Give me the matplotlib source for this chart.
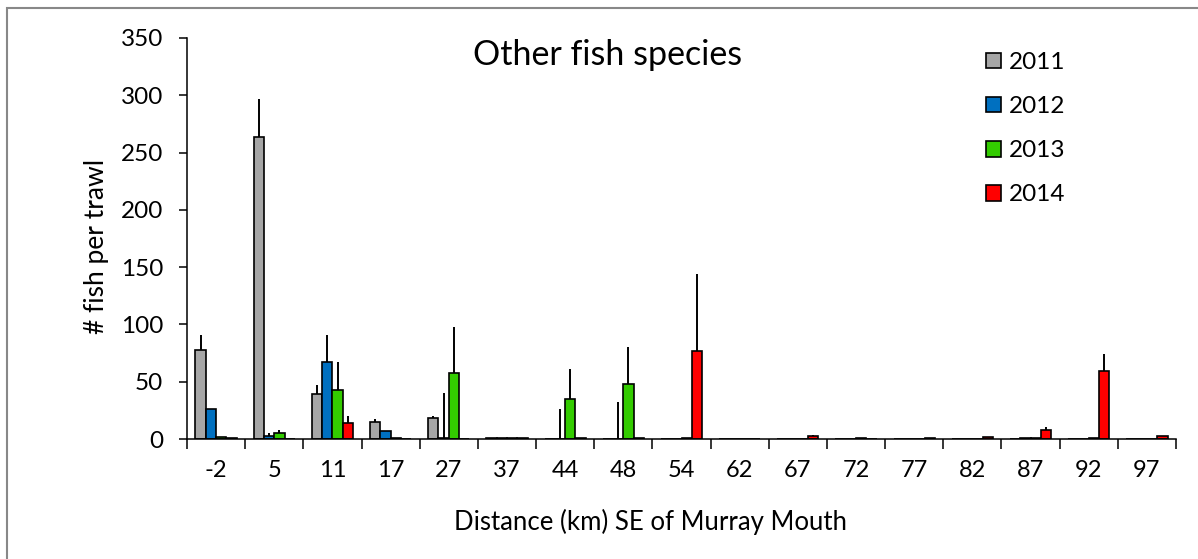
import numpy as np
import matplotlib
matplotlib.use('Agg')
import matplotlib.pyplot as plt
from matplotlib.patches import Rectangle

plt.rcParams['font.family'] = ['Lato', 'DejaVu Sans']

# distance categories (km SE of Murray Mouth)
cats = ['-2', '5', '11', '17', '27', '37', '44', '48', '54',
        '62', '67', '72', '77', '82', '87', '92', '97']
years = ['2011', '2012', '2013', '2014']
colors = ['#A6A6A6', '#0070C0', '#33CC00', '#FF0000']

# mean fish per trawl
y2011 = [78, 264, 39, 15, 18, 1, 0, 0, 0, 0, 0, 0, 0, 0, 0, 0, 0]
y2012 = [26, 3, 67, 7, 1, 0.8, 0.3, 0.3, 0, 0, 0, 0, 0, 0, 0.5, 0, 0]
y2013 = [2, 5, 43, 1, 58, 0.8, 35, 48, 1, 0, 0, 0.8, 0, 0, 1, 1, 0]
y2014 = [1, 0, 14, 0.3, 0, 0.5, 0.5, 0.8, 77, 0, 3, 0.4, 0.5, 2, 8, 59, 2.5]

# upper error (SE)
e2011 = [13, 33, 8, 2.5, 2, 0, 0, 0, 0, 0, 0, 0, 0, 0, 0, 0, 0]
e2012 = [0, 2, 24, 0, 39, 0, 26, 32, 0, 0, 0, 0, 0, 0, 0, 0, 0]
e2013 = [0, 2.5, 24, 0, 40, 0, 26, 32, 0, 0, 0, 0, 0, 0, 0, 0, 0]
e2014 = [0, 0, 6, 0, 0, 0, 0, 0, 67, 0, 0.5, 0, 0, 0, 2.5, 15, 0.5]

vals = [y2011, y2012, y2013, y2014]
errs = [e2011, e2012, e2013, e2014]

W, H = 1198, 559
fig = plt.figure(figsize=(W / 100, H / 100), dpi=100)
fig.patches.append(Rectangle((7 / W, -0.1), 1.2, (H - 8) / H + 0.1,
                             transform=fig.transFigure, fill=False,
                             edgecolor='#888888', linewidth=1.5))

ax = fig.add_axes([187 / W, (H - 439) / H, (1176 - 187) / W, (439 - 38) / H])

x = np.arange(len(cats))
bw = 0.177
for k in range(4):
    pos = x + (k - 1.5) * bw
    ax.bar(pos, vals[k], width=bw, color=colors[k], edgecolor='black',
           linewidth=1.2, label=years[k], zorder=2)
    up = np.array(errs[k])
    ax.errorbar(pos, vals[k], yerr=[np.zeros_like(up), up], fmt='none',
                ecolor='black', elinewidth=1.4, capsize=0, zorder=1)

ax.set_xlim(-0.5, len(cats) - 0.5)
ax.set_ylim(0, 350)
ax.set_yticks(np.arange(0, 351, 50))
ax.set_xticks(x)
ax.set_xticklabels(cats)
ax.set_xticks(np.arange(-0.5, len(cats), 1), minor=True)
ax.tick_params(axis='x', which='major', length=0, pad=15, labelsize=17)
ax.tick_params(axis='x', which='minor', length=7, width=1.1, direction='out')
ax.tick_params(axis='y', length=6, width=1.1, pad=11, labelsize=17.5)

for s in ['top', 'right']:
    ax.spines[s].set_visible(False)
for s in ['left', 'bottom']:
    ax.spines[s].set_linewidth(1.1)

ax.set_ylabel('# fish per trawl', fontsize=19, labelpad=9)
ax.yaxis.label.set_y(0.481)
ax.set_xlabel('Distance (km) SE of Murray Mouth', fontsize=18.5, labelpad=20)
ax.xaxis.label.set_x(0.469)
ax.text(0.425, 0.958, 'Other fish species', transform=ax.transAxes,
        ha='center', va='center', fontsize=24.5)

ax.legend(loc='upper left', bbox_to_anchor=(0.808, 0.965), frameon=False,
          fontsize=17.5, handlelength=0.62, handleheight=0.62,
          handletextpad=0.3, labelspacing=0.95, borderpad=0,
          borderaxespad=0)

fig.savefig('out.png', dpi=100)
